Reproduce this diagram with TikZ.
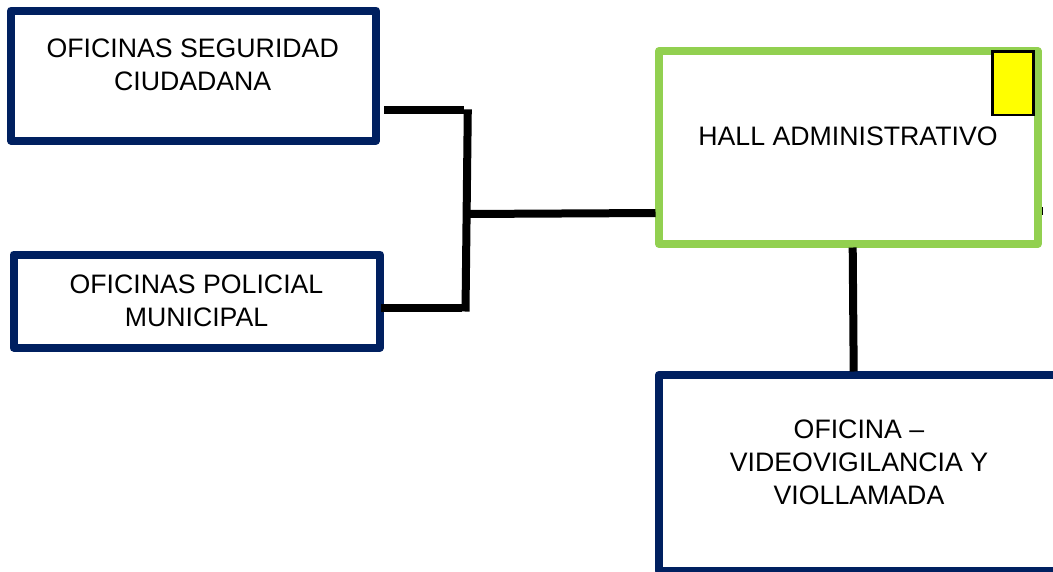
\documentclass[tikz,border=0pt]{standalone}
\usepackage{fontspec}
\setmainfont{Liberation Sans}
\definecolor{navybox}{RGB}{0,32,96}
\definecolor{greenbox}{RGB}{146,208,80}
\definecolor{markyellow}{RGB}{255,255,0}
\tikzset{
  officebox/.style={draw=navybox,line width=8pt,line join=round,fill=white,inner sep=0pt,outer sep=0pt},
  hallbox/.style={officebox,draw=greenbox},
  markbox/.style={draw=black,line width=2.6pt,fill=markyellow,inner sep=0pt,outer sep=0pt},
  caption/.style={font=\fontsize{26.7}{33}\selectfont,align=center,inner sep=0pt,text=black},
  wire/.style={draw=black,line width=8pt},
  tick/.style={draw=black,line width=1.5pt}
}
\begin{document}
\begin{tikzpicture}[x=1pt,y=-1pt]
\useasboundingbox (0,0) rectangle (1053,571);
\clip (0,0) rectangle (1053,571);
\fill[white] (0,0) rectangle (1053,571);
% boxes
\node[officebox,minimum width=365pt,minimum height=130pt] (seg) at (193.5,75.5) {};
\node[officebox,minimum width=366.5pt,minimum height=93pt] (pol) at (196.75,301) {};
\node[hallbox,minimum width=378.5pt,minimum height=193pt] (hall) at (848.25,147.5) {};
\node[officebox,minimum width=411pt,minimum height=196pt] (vid) at (864.5,472.7) {};
\node[markbox,minimum width=41pt,minimum height=63.5pt] (mark) at (1013,83.25) {};
% captions
\node[caption] (tseg) at (192.7,64.5) {OFICINAS SEGURIDAD\\CIUDADANA};
\node[caption] (tpol) at (196.5,300.5) {OFICINAS POLICIAL\\MUNICIPAL};
\node[caption] (thall) at (848,136) {HALL ADMINISTRATIVO};
\node[caption] (tvid) at (859,462) {OFICINA –\\VIDEOVIGILANCIA Y\\VIOLLAMADA};
% connector ends
\coordinate (segout) at (384,109.5);
\coordinate (polout) at (381,307.7);
\coordinate (segin) at (464.3,109.5);
\coordinate (polin) at (462,307.7);
\coordinate (bustop) at (467.8,109.4);
\coordinate (busbot) at (465.5,311.5);
\coordinate (busmid) at (466,214);
\coordinate (hallin) at (655.5,213);
\coordinate (hallout) at (852.7,247.5);
\coordinate (vidin) at (853.7,371.5);
\coordinate (ticka) at (1042.7,207);
\coordinate (tickb) at (1042.7,215);
% connectors
\draw[wire] (segout) -- (segin);
\draw[wire] (polout) -- (polin);
\draw[wire] (bustop) -- (busbot);
\draw[wire] (busmid) -- (hallin);
\draw[wire] (hallout) -- (vidin);
\draw[tick] (ticka) -- (tickb);
\end{tikzpicture}
\end{document}
